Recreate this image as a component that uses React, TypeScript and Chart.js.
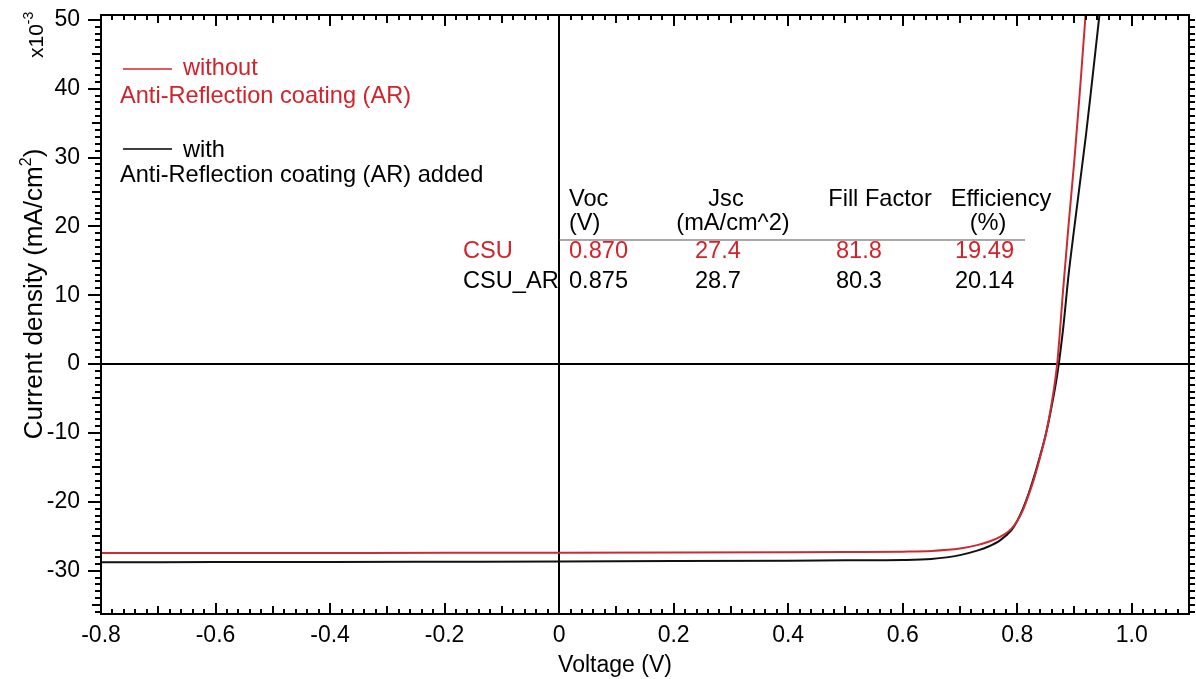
import React, { useEffect, useRef } from 'react';
import { Chart, registerables } from 'chart.js';

Chart.register(...registerables);

// J–V curve of the cell without anti-reflection coating
const voltageNoAR = [-0.8, -0.6, -0.4, -0.2, 0, 0.2, 0.4, 0.5, 0.6, 0.65, 0.7, 0.73, 0.75, 0.77, 0.79, 0.8, 0.81, 0.82, 0.83, 0.84, 0.85, 0.86, 0.87, 0.88, 0.89, 0.9, 0.91, 0.92, 0.93];
const currentNoAR = [-27.45, -27.44, -27.43, -27.42, -27.4, -27.37, -27.33, -27.3, -27.25, -27.15, -26.8, -26.3, -25.8, -25.1, -23.9, -22.8, -21.2, -19.0, -16.5, -13.5, -10.2, -5.8, 0.2, 10.6, 20.5, 29.8, 40.2, 51.5, 63];

// J–V curve of the cell with anti-reflection coating
const voltageAR = [-0.8, -0.6, -0.4, -0.2, 0, 0.2, 0.4, 0.5, 0.6, 0.65, 0.7, 0.73, 0.75, 0.77, 0.79, 0.8, 0.81, 0.82, 0.83, 0.84, 0.85, 0.86, 0.87, 0.88, 0.89, 0.9, 0.91, 0.92, 0.93, 0.94, 0.95];
const currentAR = [-28.78, -28.76, -28.74, -28.71, -28.68, -28.62, -28.55, -28.5, -28.45, -28.3, -27.75, -27.1, -26.5, -25.6, -24.1, -22.8, -21.0, -18.8, -16.2, -13.3, -10.2, -6.2, -1.5, 5.0, 13.2, 20.0, 26.6, 33.2, 40.5, 48.0, 55.5];

const xTickValues = [-0.8, -0.6, -0.4, -0.2, 0, 0.2, 0.4, 0.6, 0.8, 1.0];
const xTickLabels = ['-0.8', '-0.6', '-0.4', '-0.2', '0', '0.2', '0.4', '0.6', '0.8', '1.0'];
const yTickValues = [-30, -20, -10, 0, 10, 20, 30, 40, 50];
const yTickLabels = ['-30', '-20', '-10', '0', '10', '20', '30', '40', '50'];

const X_MIN = -0.8;
const X_MAX = 1.1;
const Y_MIN = -36.3;
const Y_MAX = 50.7;

// Summary table of cell parameters
const tableHeaders = ['Voc', 'Jsc', 'Fill Factor', 'Efficiency'];
const tableUnits = ['(V)', '(mA/cm^2)', '', '(%)'];
const sampleNames = ['CSU', 'CSU_AR'];
const vocValues = ['0.870', '0.875'];
const jscValues = ['27.4', '28.7'];
const fillFactorValues = ['81.8', '80.3'];
const efficiencyValues = ['19.49', '20.14'];

const FONT = '"Liberation Sans", Arial, sans-serif';
const RED = '#d2232b';
const BLACK = '#000000';
const TEXT_SIZE = 23.6;

const toPoints = (xs: number[], ys: number[]) => xs.map((x, i) => ({ x, y: ys[i] }));

const decorations = {
  id: 'ivDecorations',
  beforeDatasetsDraw(chart: any) {
    const { ctx, chartArea: a, scales } = chart;
    const x0 = Math.round(scales.x.getPixelForValue(0));
    const y0 = Math.round(scales.y.getPixelForValue(0));
    ctx.save();
    ctx.strokeStyle = BLACK;
    ctx.lineWidth = 2;
    ctx.beginPath();
    ctx.moveTo(x0, a.top);
    ctx.lineTo(x0, a.bottom);
    ctx.moveTo(a.left, y0);
    ctx.lineTo(a.right, y0);
    ctx.stroke();
    ctx.restore();
  },
  afterDraw(chart: any) {
    const { ctx, chartArea: a, scales } = chart;
    const xs = scales.x;
    const ys = scales.y;
    ctx.save();
    ctx.strokeStyle = BLACK;
    ctx.lineWidth = 2;

    // frame
    ctx.strokeRect(a.left, a.top, a.right - a.left, a.bottom - a.top);

    // x-axis ticks (inside, bottom and top)
    ctx.beginPath();
    for (let k = -40; k <= 55; k++) {
      const v = k * 0.02;
      if (v < X_MIN - 1e-9 || v > X_MAX + 1e-9) continue;
      const px = Math.round(xs.getPixelForValue(v));
      const len = k % 10 === 0 ? 11 : k % 5 === 0 ? 8 : 5;
      ctx.moveTo(px, a.bottom);
      ctx.lineTo(px, a.bottom - len);
      ctx.moveTo(px, a.top);
      ctx.lineTo(px, a.top + len);
    }
    // y-axis ticks (outside, left and right)
    for (let k = -36; k <= 50; k++) {
      const py = Math.round(ys.getPixelForValue(k));
      const len = k % 10 === 0 ? 13 : k % 5 === 0 ? 9 : 6;
      ctx.moveTo(a.left, py);
      ctx.lineTo(a.left - len, py);
      ctx.moveTo(a.right, py);
      ctx.lineTo(a.right + 6, py);
    }
    ctx.stroke();

    // axis titles
    ctx.fillStyle = BLACK;
    ctx.textBaseline = 'alphabetic';
    ctx.font = `23px ${FONT}`;
    ctx.textAlign = 'center';
    ctx.fillText('Voltage (V)', 615, 672);

    // rotated y-axis title with superscript
    const main = 'Current density (mA/cm';
    ctx.font = `26px ${FONT}`;
    const wMain = ctx.measureText(main).width;
    const wClose = ctx.measureText(')').width;
    ctx.font = `16px ${FONT}`;
    const wSup = ctx.measureText('2').width;
    const total = wMain + wSup + wClose;
    ctx.save();
    ctx.translate(42, 294 + total / 2);
    ctx.rotate(-Math.PI / 2);
    ctx.textAlign = 'left';
    ctx.font = `26px ${FONT}`;
    ctx.fillText(main, 0, 0);
    ctx.font = `16px ${FONT}`;
    ctx.fillText('2', wMain, -11);
    ctx.font = `26px ${FONT}`;
    ctx.fillText(')', wMain + wSup, 0);
    ctx.restore();

    // axis multiplier
    ctx.save();
    ctx.translate(43, 58);
    ctx.rotate(-Math.PI / 2);
    ctx.textAlign = 'left';
    ctx.font = `21px ${FONT}`;
    ctx.fillText('x10', 0, 0);
    const w10 = ctx.measureText('x10').width;
    ctx.font = `14px ${FONT}`;
    ctx.fillText('-3', w10, -10);
    ctx.restore();

    // legend
    ctx.textAlign = 'left';
    ctx.font = `${TEXT_SIZE}px ${FONT}`;
    ctx.lineWidth = 1.5;
    ctx.strokeStyle = RED;
    ctx.beginPath();
    ctx.moveTo(123, 69);
    ctx.lineTo(172, 69);
    ctx.stroke();
    ctx.fillStyle = RED;
    ctx.fillText('without', 183, 75);
    ctx.fillText('Anti-Reflection coating (AR)', 120, 103);
    ctx.strokeStyle = BLACK;
    ctx.beginPath();
    ctx.moveTo(123, 149);
    ctx.lineTo(172, 149);
    ctx.stroke();
    ctx.fillStyle = BLACK;
    ctx.fillText('with', 183, 157);
    ctx.fillText('Anti-Reflection coating (AR) added', 120, 182);

    // parameter table
    const headerX = [569, 726, 880, 1001];
    const unitX = [569, 733, 880, 988];
    const headerAlign: CanvasTextAlign[] = ['left', 'center', 'center', 'center'];
    const valueX = [569, 695, 836, 955];
    ctx.fillStyle = BLACK;
    tableHeaders.forEach((h, i) => {
      ctx.textAlign = headerAlign[i];
      ctx.fillText(h, headerX[i], 206);
      if (tableUnits[i]) ctx.fillText(tableUnits[i], unitX[i], 230);
    });
    ctx.strokeStyle = '#555555';
    ctx.lineWidth = 1.2;
    ctx.beginPath();
    ctx.moveTo(xs.getPixelForValue(0), 240);
    ctx.lineTo(1025, 240);
    ctx.stroke();
    const rowY = [258, 288];
    const rowColor = [RED, BLACK];
    ctx.textAlign = 'left';
    sampleNames.forEach((name, r) => {
      ctx.fillStyle = rowColor[r];
      ctx.fillText(name, 463, rowY[r]);
      const vals = [vocValues[r], jscValues[r], fillFactorValues[r], efficiencyValues[r]];
      vals.forEach((v, i) => {
        ctx.fillText(v, valueX[i], rowY[r]);
      });
    });
    ctx.restore();
  },
};

export default function App() {
  const canvasRef = useRef<HTMLCanvasElement | null>(null);

  useEffect(() => {
    const canvas = canvasRef.current;
    if (!canvas) return;
    const chart = new Chart(canvas, {
      type: 'line',
      data: {
        datasets: [
          {
            label: 'without Anti-Reflection coating (AR)',
            data: toPoints(voltageNoAR, currentNoAR),
            borderColor: '#cc2b33',
            borderWidth: 2,
            pointRadius: 0,
            fill: false,
            cubicInterpolationMode: 'monotone',
          },
          {
            label: 'with Anti-Reflection coating (AR) added',
            data: toPoints(voltageAR, currentAR),
            borderColor: '#111111',
            borderWidth: 2,
            pointRadius: 0,
            fill: false,
            cubicInterpolationMode: 'monotone',
          },
        ],
      },
      options: {
        animation: false,
        responsive: false,
        devicePixelRatio: 1,
        layout: { padding: { top: 15, right: 7, left: 0, bottom: 0 } },
        plugins: { legend: { display: false }, tooltip: { enabled: false } },
        scales: {
          x: {
            type: 'linear',
            min: X_MIN,
            max: X_MAX,
            grid: { display: false, drawTicks: false },
            border: { display: false },
            afterBuildTicks: (scale: any) => {
              scale.ticks = xTickValues.map((value) => ({ value }));
            },
            afterFit: (scale: any) => {
              scale.height = 65;
              scale.paddingLeft = 0;
              scale.paddingRight = 0;
              scale.paddingTop = 0;
              scale.paddingBottom = 0;
            },
            ticks: {
              padding: 8,
              color: BLACK,
              font: { family: FONT, size: 23 },
              maxRotation: 0,
              autoSkip: false,
              callback: (value: any) => {
                const i = xTickValues.findIndex((t) => Math.abs(t - Number(value)) < 1e-9);
                return i >= 0 ? xTickLabels[i] : '';
              },
            },
          },
          y: {
            type: 'linear',
            min: Y_MIN,
            max: Y_MAX,
            grid: { display: false, drawTicks: false },
            border: { display: false },
            afterBuildTicks: (scale: any) => {
              scale.ticks = yTickValues.map((value) => ({ value }));
            },
            afterFit: (scale: any) => {
              scale.width = 101;
              scale.paddingLeft = 0;
              scale.paddingRight = 0;
              scale.paddingTop = 0;
              scale.paddingBottom = 0;
            },
            ticks: {
              padding: 21,
              color: BLACK,
              font: { family: FONT, size: 23 },
              autoSkip: false,
              callback: (value: any) => {
                const i = yTickValues.findIndex((t) => Math.abs(t - Number(value)) < 1e-9);
                return i >= 0 ? yTickLabels[i] : '';
              },
            },
          },
        },
      },
      plugins: [decorations],
    });
    return () => chart.destroy();
  }, []);

  return (
    <div style={{ position: 'fixed', left: 0, top: 0, width: 1196, height: 679, background: '#ffffff' }}>
      <canvas ref={canvasRef} width={1196} height={679} style={{ display: 'block' }} />
    </div>
  );
}
